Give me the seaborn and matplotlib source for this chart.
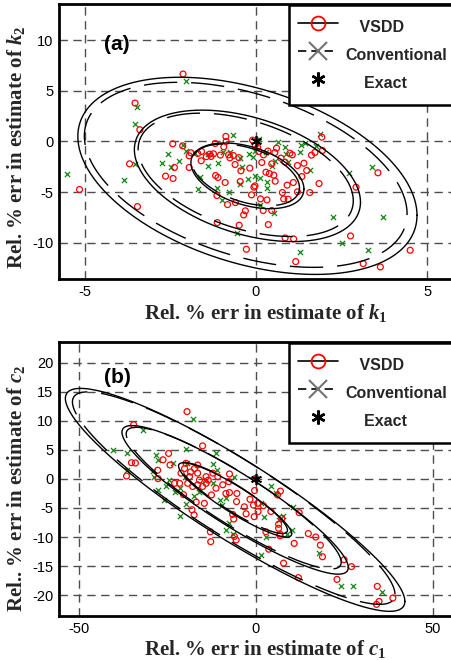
import numpy as np
import pandas as pd
import matplotlib
matplotlib.use("Agg")
import matplotlib.pyplot as plt
import seaborn as sns
from matplotlib.lines import Line2D

# ---- panel (a): relative % error in k1 / k2 ----
vsdd_k1 = [-2.13, -3.53, -3.39, -2.43, -2.14, -3.69, -2.64, -2.42, -2.38, -5.15,
           -3.46, -1.95, -1.95, -0.88, -0.87, -1.18, -1.11, -0.90, -1.14, -0.83,
           -0.60, -0.31, -0.36, -0.49, -0.28, -1.13, -0.46, -0.44, -0.18, -0.06,
           -0.03, -0.13, 0.13, 0.32, 0.21, 0.46, 0.36, 0.85, 1.10, 1.16,
           0.77, 0.81, 0.94, 0.91, 1.09, 1.21, 1.57, 1.84, 0.29, 0.39,
           0.52, 0.56, 0.17, 0.46, 0.60, -0.10, -0.02, 0.08, 0.22, 0.73,
           0.85, 0.99, 1.06, 1.21, 1.40, 1.48, 1.34, 1.62, 1.72, 1.92,
           1.94, 2.92, 2.76, 3.13, 3.63, 3.56, 4.50, -0.61, -0.66, -1.90,
           -1.70, -1.59, -1.35, -1.31, -1.24, -1.04, -0.80, -0.76, -0.94, -1.19,
           -1.60, 0.35, 0.55, -0.50, 0.05, -1.45]
vsdd_k2 = [6.67, 3.80, 1.16, -0.23, -0.43, -2.21, -3.43, -3.66, -2.57, -4.75,
           -6.44, -1.42, -2.57, 0.50, 0.00, -3.37, -3.56, -4.06, -5.35, -6.24,
           -6.04, -6.86, -7.26, -8.28, -10.66, -8.02, -3.96, -2.90, -2.64, -4.52,
           -4.39, -5.28, -5.68, -5.78, -6.83, -6.83, -8.22, -9.54, -9.64, -11.88,
           -5.05, -5.68, -5.71, -4.32, -4.06, -4.98, -5.05, -4.16, -3.04, -3.17,
           -3.33, -3.93, -2.08, -2.21, -0.66, 0.13, -0.36, -0.99, -1.32, -1.65,
           -2.05, -1.16, -1.32, -2.38, -2.15, -2.87, -3.47, -1.35, -1.09, 0.43,
           -0.89, -4.52, -9.34, -12.08, -12.41, -3.10, -10.76, -2.28, -1.39, -1.12,
           -1.19, -0.99, -1.25, -1.48, -1.22, -1.35, -1.32, -1.62, -0.53, -0.20,
           -1.91, -0.95, -1.10, -1.60, -0.60, -1.50]
conv_k1 = [-2.04, -3.46, -3.54, -3.53, -3.85, -5.53, -2.75, -2.57, -2.48, -2.25,
           -2.13, -1.70, -1.62, -1.41, -1.14, -0.79, -0.98, -0.54, -0.46, -0.67,
           -0.23, -0.19, 0.02, 0.08, -0.04, 0.11, 0.32, 0.31, 0.12, 0.52,
           0.48, 0.63, 0.85, 0.89, 0.94, 1.28, 1.30, 1.42, 1.76, 1.88,
           1.57, 1.28, 2.24, 2.50, 2.71, 3.27, 3.38, 3.70, -0.10, -0.02,
           -0.42, -0.48, -0.76, -0.97, -1.40, -1.79, -2.03, 0.55, 0.30, -1.10]
conv_k2 = [6.00, 3.40, 1.75, -2.21, -3.83, -3.20, -2.08, -1.19, -2.48, -1.91,
           -0.36, -4.75, -3.47, -2.41, -4.65, -5.02, -5.81, -9.08, -4.22, 0.66,
           -3.76, -1.22, 0.17, 0.20, -3.40, -3.63, -3.96, -4.65, -6.24, -7.06,
           -2.41, -0.10, -0.53, -1.25, -2.01, -1.09, -0.30, -0.13, -0.46, 0.73,
           -2.84, -10.96, -7.43, -10.03, -3.14, -10.73, -2.54, -7.43, -1.50, -0.90,
           -2.57, -1.65, -1.06, -1.00, -1.20, -1.12, -0.98, -1.90, -1.00, -2.10]

# ---- panel (b): relative % error in c1 / c2 ----
vsdd_c1 = [-19.5, -34.6, -15.1, -35.2, -34.1, -36.6, -24.7, -26.3, -24.3, -27.7,
           -27.8, -20.5, -18.1, -17.5, -16.9, -14.6, -12.6, -12.9, -12.8, -7.5,
           -7.7, -7.5, -6.6, -6.3, -6.1, -5.6, -5.5, -5.4, -3.3, -2.8,
           -1.7, -0.7, -0.4, -0.2, -0.5, 0.6, 0.5, 2.1, 4.2, 2.8,
           3.6, 6.1, 6.9, 6.4, 6.4, 6.8, 6.8, 7.3, 7.8, 10.8,
           12.0, 12.2, 14.8, 16.9, 18.2, 18.8, 22.9, 24.9, 27.0, 34.3,
           34.1, 34.8, 38.7, -17.4, -16.5, -16.0, -14.1, -12.2, -10.8, -9.4,
           -8.5, -11.3, -21.2, -20.2, -18.8, -17.9, -15.1, -23.0, -21.6, -19.3,
           -16.5, -19.8, -16.5, -14.1, -18.5, -13.5]
vsdd_c2 = [11.6, 9.35, 5.7, 2.8, 2.75, 0.5, 4.4, 3.3, 2.4, 0.06,
           1.5, -2.7, -5.3, -6.2, -4.0, -4.2, -2.75, -9.1, -10.8, 0.86,
           -0.46, -2.35, -6.1, -6.9, -9.9, -10.5, -3.9, -2.5, -4.8, -6.0,
           -3.5, -4.5, -2.0, 0.06, -6.5, -5.6, -4.2, -4.6, -5.6, -9.1,
           -12.1, -2.75, -2.1, -7.8, -8.5, -9.5, -9.8, -6.8, -14.5, -11.1,
           -17.0, -5.8, -9.4, -10.0, -11.4, -13.4, -17.3, -13.9, -15.1, -18.5,
           -21.6, -21.1, -20.5, 1.8, 1.0, -0.2, -0.75, 1.0, 0.4, -1.0,
           -2.5, -1.6, 1.0, 1.8, 0.4, -1.3, -1.3, -0.75, -0.75, -0.75,
           -1.0, 2.7, 2.4, 0.4, 1.2, -0.2]
conv_c1 = [-17.9, -32.0, -40.3, -36.6, -36.4, -19.9, -11.3, -28.2, -27.7, -29.0,
           -28.8, -27.7, -25.9, -25.4, -24.5, -23.5, -21.6, -19.9, -19.6, -17.4,
           -16.0, -12.2, -11.1, -10.3, -9.6, -8.5, -7.7, -8.5, -6.4, -6.2,
           -12.2, -14.1, 0.1, 1.4, 2.4, 2.8, 1.4, 4.2, 5.6, 6.6,
           7.7, 8.9, 10.3, 10.5, 17.7, 24.0, 27.3, 35.7, -21.6, -23.0,
           -20.2]
conv_c2 = [10.4, 8.5, 5.0, 4.5, 1.5, 5.2, 4.4, 4.1, 3.3, 1.3,
           0.4, -1.9, -3.6, -1.2, -0.2, 2.7, -6.3, -4.3, 2.7, -3.0,
           -2.2, 2.6, 1.5, -3.6, -4.5, -3.3, -7.6, -8.8, -9.5, 0.4,
           -0.75, -0.2, 0.2, -4.2, -6.5, -10.0, -13.1, -1.2, -2.5, -7.1,
           -6.3, -9.4, -8.8, -4.9, -12.7, -18.4, -18.4, -19.5, -1.6, -2.2,
           0.4]

# confidence ellipses: centre x, centre y, sigma x, sigma y, correlation
ell_vsdd_a = (-0.25, -3.4, 1.65, 3.25, -0.40)
ell_conv_a = (-0.30, -3.3, 1.57, 3.05, -0.42)
ell_vsdd_b = (-5.9, -3.6, 16.0, 6.4, -0.91)
ell_conv_b = (-6.3, -3.3, 15.2, 6.1, -0.905)
sigma_levels = [1, 2, 3]
exact = (0.0, 0.0)


def ellipse_frame(params, levels):
    mx, my, sx, sy, r = params
    cov = np.array([[sx**2, r * sx * sy], [r * sx * sy, sy**2]])
    L = np.linalg.cholesky(cov)
    t = np.linspace(0, 2 * np.pi, 300)
    circ = np.vstack([np.cos(t), np.sin(t)])
    rows = []
    for k in levels:
        pts = k * (L @ circ)
        rows.append(pd.DataFrame({"x": mx + pts[0], "y": my + pts[1], "level": k}))
    return pd.concat(rows, ignore_index=True)


sns.set_theme(style="white")
plt.rcParams["font.family"] = ["Liberation Sans", "DejaVu Sans"]
plt.rcParams["axes.unicode_minus"] = False
plt.rcParams["mathtext.fontset"] = "custom"
plt.rcParams["mathtext.it"] = "Liberation Serif:italic:bold"
plt.rcParams["mathtext.rm"] = "Liberation Serif:bold"

DASH = (0, (24, 10))
label_font = dict(family="Liberation Serif", weight="bold", size=15)

fig = plt.figure(figsize=(4.51, 6.6), dpi=100)
ax_a = fig.add_axes([0.1308, 0.5773, 0.8736, 0.4167])
ax_b = fig.add_axes([0.1308, 0.0667, 0.8736, 0.4152])

panels = [
    (ax_a, vsdd_k1, vsdd_k2, conv_k1, conv_k2, ell_vsdd_a, ell_conv_a,
     (-5.75, 5.75), (-13.6, 13.6), [-5, 0, 5], [-10, -5, 0, 5, 10], "(a)",
     r"Rel. % err in estimate of $k_1$", r"Rel. % err in estimate of $k_2$",
     (0.525, -0.085), (-0.082, 0.48), 0.852),
    (ax_b, vsdd_c1, vsdd_c2, conv_c1, conv_c2, ell_vsdd_b, ell_conv_b,
     (-55.7, 55.7), (-23.6, 23.6), [-50, 0, 50], list(range(-20, 21, 5)), "(b)",
     r"Rel. % err in estimate of $c_1$", r"Rel.. % err in estimate of $c_2$",
     (0.522, -0.08), (-0.082, 0.465), 0.87),
]

for (ax, vx, vy, cx, cy, ev, ec, xlim, ylim, xt, yt, tag,
     xlab, ylab, xlab_pos, ylab_pos, tag_y) in panels:
    ax.set_axisbelow(True)
    ax.grid(True, linestyle=(0, (6, 4)), color="0.3", linewidth=1.0)

    sns.scatterplot(x=cx, y=cy, ax=ax, marker="x", color="#118811",
                    s=14, linewidth=0.9, zorder=3)
    sns.scatterplot(x=vx, y=vy, ax=ax, marker="o", facecolor="none",
                    edgecolor="red", s=18, linewidth=0.9, zorder=3)

    sns.lineplot(data=ellipse_frame(ev, sigma_levels), x="x", y="y",
                 units="level", estimator=None, sort=False, color="black",
                 linewidth=1.0, ax=ax, zorder=4)
    sns.lineplot(data=ellipse_frame(ec, sigma_levels), x="x", y="y",
                 units="level", estimator=None, sort=False, color="black",
                 linewidth=1.0, linestyle=DASH, ax=ax, zorder=4)

    ax.plot(*exact, marker=(6, 2, 0), color="black", markersize=8,
            markeredgewidth=1.2, linestyle="none", zorder=5)

    ax.set_xlim(*xlim)
    ax.set_ylim(*ylim)
    ax.set_xticks(xt)
    ax.set_yticks(yt)
    ax.tick_params(direction="in", length=3, width=1, labelsize=10.5,
                   pad=4, colors="black")
    for sp in ax.spines.values():
        sp.set_color("black")
        sp.set_linewidth(2)

    ax.set_xlabel(xlab, **label_font)
    ax.set_ylabel(ylab, **label_font)
    ax.xaxis.set_label_coords(*xlab_pos)
    ax.yaxis.set_label_coords(*ylab_pos)

    ax.text(0.148, tag_y, tag, transform=ax.transAxes, ha="center", va="center",
            fontsize=15, fontweight="bold", color="black")

    handles = [
        Line2D([], [], color="black", linestyle="-", linewidth=1.2, marker="o",
               markersize=10, markerfacecolor="none", markeredgecolor="red",
               markeredgewidth=1.3),
        Line2D([], [], color="black", linestyle=(0, (5, 3)), linewidth=1.2,
               marker="x", markersize=13, markeredgecolor="0.45",
               markeredgewidth=1.5),
        Line2D([], [], color="black", linestyle="none", marker=(6, 2, 0),
               markersize=10, markeredgewidth=1.8),
    ]
    leg = ax.legend(handles, ["   VSDD", "Conventional", "    Exact"],
                    loc="upper right", bbox_to_anchor=(1.01, 0.997),
                    borderaxespad=0.0, frameon=True, fancybox=False,
                    framealpha=1, edgecolor="black", handlelength=2.5,
                    handleheight=2.03, handletextpad=0.45, labelspacing=0.18,
                    borderpad=0.6,
                    prop=dict(family="Liberation Sans", weight="bold", size=11.5))
    leg.get_frame().set_linewidth(1.8)
    leg.set_zorder(10)

fig.savefig("out.png", dpi=100)
